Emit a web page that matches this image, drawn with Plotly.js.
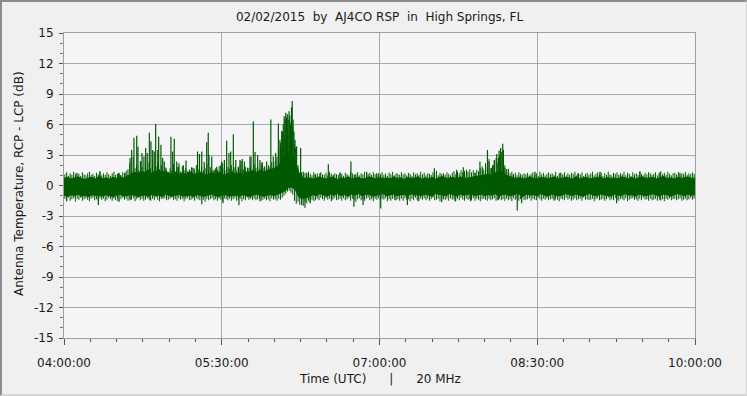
<!DOCTYPE html>
<html>
<head>
<meta charset="utf-8">
<script src="https://cdn.plot.ly/plotly-3.0.1.min.js"></script>
<style>
  html, body { margin:0; padding:0; background:#f0f0f0; }
  #wrap { position:relative; width:747px; height:396px; }
  #chart { position:absolute; left:0; top:0; width:747px; height:396px; }
  #frame { position:absolute; left:0; top:0; width:747px; height:396px; box-sizing:border-box;
           border-top:2px solid #8c8c8c; border-left:2px solid #8c8c8c;
           border-right:1px solid #d4d4d4; border-bottom:2px solid #d4d4d4; pointer-events:none; }
</style>
</head>
<body>
<div id="wrap"><div id="chart"></div><div id="frame"></div></div>
<script>
// ---- data (minutes after 04:00:00 UTC, dB) ----
const titleText = "02/02/2015  by  AJ4CO RSP  in  High Springs, FL";
const xTitleText = "Time (UTC)      |      20 MHz";
const yTitleText = "Antenna Temperature, RCP - LCP (dB)";
const xTickLabels = ["04:00:00","05:30:00","07:00:00","08:30:00","10:00:00"];
const yTickValues = [-15,-12,-9,-6,-3,0,3,6,9,12,15];
const yTickLabels = ["-15","-12","-9","-6","-3","0","3","6","9","12","15"];

// noise band core envelope, sampled every 2 minutes
const bandTime = [0,2,4,6,8,10,12,14,16,18,20,22,24,26,28,30,32,34,36,38,40,42,44,46,48,50,52,54,56,58,60,62,64,66,68,70,72,74,76,78,80,82,84,86,88,90,92,94,96,98,100,102,104,106,108,110,112,114,116,118,120,122,124,126,128,130,132,134,136,138,140,142,144,146,148,150,152,154,156,158,160,162,164,166,168,170,172,174,176,178,180,182,184,186,188,190,192,194,196,198,200,202,204,206,208,210,212,214,216,218,220,222,224,226,228,230,232,234,236,238,240,242,244,246,248,250,252,254,256,258,260,262,264,266,268,270,272,274,276,278,280,282,284,286,288,290,292,294,296,298,300,302,304,306,308,310,312,314,316,318,320,322,324,326,328,330,332,334,336,338,340,342,344,346,348,350,352,354,356,358,360];
const bandHigh = [
  0.7,0.8,0.65,0.75,0.85,0.7,0.6,0.75,0.8,0.65,0.9,0.7,0.75,0.65,0.8,0.7,0.85,0.75,0.9,
  1.1,1.3,1.2,1.4,1.25,1.5,1.2,1.35,1.5,1.25,1.4,
  1.2,1.1,1.3,1.05,1.2,1.1,1.35,1.1,1.2,1.3,1.1,
  1.05,1.25,1.15,1.3,1.1,1.05,1.2,1.35,1.1,1.25,1.05,
  1.3,1.35,1.45,1.3,1.5,1.35,1.45,1.6,1.7,1.9,2.4,
  2.8,3.2,3.0,2.2,1.3,
  0.8,0.7,0.75,0.65,0.75,0.8,0.7,0.65,0.8,0.75,0.6,0.75,
  0.7,0.85,0.65,0.75,0.8,0.65,0.7,0.85,0.75,0.65,0.8,0.7,
  0.75,0.65,0.85,0.7,0.75,0.6,0.8,0.7,0.75,0.85,0.65,0.75,
  0.7,0.8,0.65,0.75,0.9,0.7,0.75,0.8,0.65,0.85,0.75,0.7,
  0.8,0.85,0.9,0.95,
  1.0,1.1,1.0,1.25,1.35,1.4,1.0,
  0.9,0.75,0.7,0.8,0.65,0.75,0.85,0.7,0.65,0.8,0.75,0.7,
  0.75,0.85,0.65,0.7,0.8,0.75,0.65,0.85,0.7,0.75,0.8,0.65,
  0.7,0.75,0.85,0.65,0.8,0.7,0.75,0.65,0.85,0.75,0.7,0.8,
  0.65,0.75,0.85,0.7,0.75,0.8,0.65,0.75,0.9,0.7,0.75,0.65,
  0.8,0.7,0.75,0.85,0.7,0.75
];
const bandLow = [
  -0.95,-1.05,-0.9,-1.0,-0.85,-1.05,-0.95,-1.1,-0.9,-1.0,-0.95,-1.05,
  -0.9,-1.0,-1.1,-0.95,-0.85,-1.05,-1.0,-0.9,-0.95,-1.1,-1.0,-0.95,
  -1.05,-0.9,-1.0,-0.95,-1.1,-0.85,-1.0,-1.05,-0.95,-0.9,-1.05,-1.0,
  -0.95,-1.1,-0.9,-1.0,-1.05,-0.95,-0.85,-1.0,-1.1,-0.95,-0.9,-1.05,
  -1.0,-0.95,-1.05,-0.9,-1.0,-1.1,-0.95,-0.85,-1.0,-1.05,-0.95,-0.9,
  -1.0,-0.85,-0.75,
  -0.55,-0.2,-0.15,-0.4,-1.15,-1.3,-1.2,-1.1,
  -0.9,-1.0,-0.8,-0.95,-1.05,-0.85,-0.95,-0.8,-1.0,-0.9,-1.05,-0.85,
  -0.95,-0.8,-1.0,-0.9,-0.85,-1.05,-0.95,-0.9,-0.8,-1.0,-0.95,-0.85,
  -1.0,-0.9,-0.85,-1.05,-0.8,-0.95,-0.9,-1.0,-0.85,-0.95,-1.05,-0.8,
  -0.9,-0.95,-1.0,-0.8,-0.9,-1.05,-0.85,-0.95,-0.9,-0.8,-1.0,-0.95,
  -0.85,-1.0,-0.9,-0.95,-0.8,-1.05,-0.9,-0.85,-1.0,-0.95,-0.8,-0.9,
  -1.05,-0.85,-0.95,-0.9,-1.0,-0.8,-0.95,-1.05,-0.85,-0.9,-1.0,-0.95,
  -0.8,-0.9,-1.0,-0.85,-0.95,-1.05,-0.9,-0.8,-0.95,-1.0,-0.85,-0.9,
  -0.95,-1.05,-0.85,-0.9,-1.0,-0.8,-0.95,-0.9,-1.05,-0.85,-0.95,-1.0,
  -0.9,-0.8,-0.95,-1.0,-0.85,-0.9,-1.05,-0.95,-0.8,-0.9,-1.0,-0.85,
  -0.95,-0.9
];

// fine noise hairs at the band edges, one per minute (t = 0.5 ... 359.5)
const hairTime = [0.5,1.5,2.5,3.5,4.5,5.5,6.5,7.5,8.5,9.5,10.5,11.5,12.5,13.5,14.5,15.5,16.5,17.5,18.5,19.5,20.5,21.5,22.5,23.5,24.5,25.5,26.5,27.5,28.5,29.5,30.5,31.5,32.5,33.5,34.5,35.5,36.5,37.5,38.5,39.5,40.5,41.5,42.5,43.5,44.5,45.5,46.5,47.5,48.5,49.5,50.5,51.5,52.5,53.5,54.5,55.5,56.5,57.5,58.5,59.5,60.5,61.5,62.5,63.5,64.5,65.5,66.5,67.5,68.5,69.5,70.5,71.5,72.5,73.5,74.5,75.5,76.5,77.5,78.5,79.5,80.5,81.5,82.5,83.5,84.5,85.5,86.5,87.5,88.5,89.5,90.5,91.5,92.5,93.5,94.5,95.5,96.5,97.5,98.5,99.5,100.5,101.5,102.5,103.5,104.5,105.5,106.5,107.5,108.5,109.5,110.5,111.5,112.5,113.5,114.5,115.5,116.5,117.5,118.5,119.5,120.5,121.5,122.5,123.5,124.5,125.5,126.5,127.5,128.5,129.5,130.5,131.5,132.5,133.5,134.5,135.5,136.5,137.5,138.5,139.5,140.5,141.5,142.5,143.5,144.5,145.5,146.5,147.5,148.5,149.5,150.5,151.5,152.5,153.5,154.5,155.5,156.5,157.5,158.5,159.5,160.5,161.5,162.5,163.5,164.5,165.5,166.5,167.5,168.5,169.5,170.5,171.5,172.5,173.5,174.5,175.5,176.5,177.5,178.5,179.5,180.5,181.5,182.5,183.5,184.5,185.5,186.5,187.5,188.5,189.5,190.5,191.5,192.5,193.5,194.5,195.5,196.5,197.5,198.5,199.5,200.5,201.5,202.5,203.5,204.5,205.5,206.5,207.5,208.5,209.5,210.5,211.5,212.5,213.5,214.5,215.5,216.5,217.5,218.5,219.5,220.5,221.5,222.5,223.5,224.5,225.5,226.5,227.5,228.5,229.5,230.5,231.5,232.5,233.5,234.5,235.5,236.5,237.5,238.5,239.5,240.5,241.5,242.5,243.5,244.5,245.5,246.5,247.5,248.5,249.5,250.5,251.5,252.5,253.5,254.5,255.5,256.5,257.5,258.5,259.5,260.5,261.5,262.5,263.5,264.5,265.5,266.5,267.5,268.5,269.5,270.5,271.5,272.5,273.5,274.5,275.5,276.5,277.5,278.5,279.5,280.5,281.5,282.5,283.5,284.5,285.5,286.5,287.5,288.5,289.5,290.5,291.5,292.5,293.5,294.5,295.5,296.5,297.5,298.5,299.5,300.5,301.5,302.5,303.5,304.5,305.5,306.5,307.5,308.5,309.5,310.5,311.5,312.5,313.5,314.5,315.5,316.5,317.5,318.5,319.5,320.5,321.5,322.5,323.5,324.5,325.5,326.5,327.5,328.5,329.5,330.5,331.5,332.5,333.5,334.5,335.5,336.5,337.5,338.5,339.5,340.5,341.5,342.5,343.5,344.5,345.5,346.5,347.5,348.5,349.5,350.5,351.5,352.5,353.5,354.5,355.5,356.5,357.5,358.5,359.5];
const hairTop = [
  1.1,1.3,0.95,1.2,1.05,1.35,1.0,1.25,1.15,0.95,1.3,1.1,
  1.0,1.2,1.35,1.05,1.15,0.95,1.25,1.1,1.4,1.0,1.2,1.05,
  1.3,1.1,0.95,1.2,1.35,1.05,1.15,1.25,1.0,1.3,1.2,1.45,
  1.6,2.2,1.4,2.8,1.7,2.0,1.5,2.4,1.8,1.4,2.1,1.6,
  2.3,1.7,2.6,1.5,1.9,2.2,1.6,2.0,1.45,1.8,1.5,1.35,
  1.7,1.5,2.1,1.4,1.8,1.55,1.35,1.9,1.5,1.7,1.4,1.6,
  1.45,1.75,1.5,2.0,1.6,1.4,1.85,1.5,1.7,2.1,1.55,1.8,
  1.5,1.4,1.7,1.55,1.9,1.45,2.2,1.6,1.5,1.8,1.65,2.0,
  1.55,1.8,1.45,1.7,2.0,1.5,1.6,1.85,1.4,1.7,1.9,1.55,
  2.1,1.75,1.9,1.6,2.2,1.7,1.85,2.0,1.65,1.8,2.3,1.9,
  2.4,2.8,3.5,4.2,3.8,5.0,4.6,5.5,4.9,6.2,5.8,4.0,
  2.6,1.5,1.2,1.3,1.1,1.25,1.05,1.35,1.15,1.0,1.3,1.1,
  1.2,0.95,1.3,1.1,1.05,1.25,1.0,1.35,1.15,0.95,1.2,1.1,
  1.05,1.3,1.15,0.95,1.25,1.1,1.0,1.35,1.2,1.05,1.15,1.3,
  1.0,1.2,1.1,1.35,0.95,1.15,1.25,1.05,1.3,1.1,1.0,1.2,
  1.15,1.3,1.05,1.2,0.95,1.25,1.1,1.35,1.0,1.2,1.15,1.05,
  1.3,1.1,1.2,1.0,1.25,1.15,0.95,1.3,1.1,1.2,1.05,1.35,
  1.1,1.25,1.0,1.2,1.15,1.05,1.3,1.1,1.45,1.0,1.25,1.15,
  1.2,1.05,1.3,1.15,1.0,1.25,1.4,1.1,1.35,1.2,1.5,1.3,
  1.45,1.2,1.35,1.6,1.3,1.5,1.25,1.55,1.4,1.7,1.9,1.5,
  2.2,1.8,2.6,1.7,2.0,2.4,2.7,2.2,3.0,3.3,2.8,2.0,
  1.6,1.3,1.2,1.35,1.1,1.25,1.0,1.3,1.15,1.05,1.2,1.1,
  1.25,1.0,1.15,1.3,1.05,1.2,0.95,1.35,1.1,1.25,1.0,1.15,
  1.3,1.1,1.2,1.05,1.35,0.95,1.15,1.25,1.1,1.3,1.0,1.2,
  1.05,1.25,1.15,1.35,1.0,1.2,1.1,1.3,0.95,1.15,1.25,1.05,
  1.2,1.35,1.0,1.15,1.3,1.1,1.25,0.95,1.2,1.05,1.35,1.1,
  1.0,1.25,1.15,1.3,1.05,1.2,1.1,1.35,1.0,1.25,1.15,0.95,
  1.3,1.1,1.2,1.05,1.35,1.15,1.0,1.25,1.1,1.3,1.2,1.05,
  1.15,1.3,1.0,1.2,1.4,1.1,1.25,1.05,1.35,1.15,1.0,1.2,
  1.25,1.1,1.3,1.0,1.2,1.15,1.35,1.05,1.2,1.1,1.3,1.15
];
const hairBottom = [
  -1.3,-1.45,-1.2,-1.5,-1.35,-1.25,-1.6,-1.3,-1.4,-1.2,-1.5,-1.35,
  -1.25,-1.4,-1.55,-1.3,-1.2,-1.45,-1.35,-1.5,-1.25,-1.4,-1.3,-1.55,
  -1.4,-1.2,-1.35,-1.5,-1.3,-1.45,-1.25,-1.6,-1.35,-1.2,-1.4,-1.3,
  -1.5,-1.3,-1.4,-1.25,-1.55,-1.35,-1.2,-1.45,-1.3,-1.5,-1.4,-1.25,
  -1.35,-1.5,-1.3,-1.45,-1.2,-1.4,-1.55,-1.3,-1.35,-1.25,-1.45,-1.4,
  -1.3,-1.2,-1.45,-1.35,-1.5,-1.25,-1.4,-1.3,-1.55,-1.35,-1.2,-1.45,
  -1.4,-1.3,-1.5,-1.25,-1.35,-1.45,-1.2,-1.4,-1.6,-1.3,-1.45,-1.35,
  -1.25,-1.45,-1.35,-1.5,-1.3,-1.4,-1.55,-1.25,-1.35,-1.45,-1.3,-1.5,
  -1.35,-1.25,-1.5,-1.4,-1.3,-1.55,-1.35,-1.45,-1.2,-1.4,-1.3,-1.45,
  -1.3,-1.45,-1.35,-1.25,-1.5,-1.4,-1.3,-1.45,-1.35,-1.55,-1.25,-1.4,
  -1.35,-1.5,-1.3,-1.4,-1.2,-1.0,-0.8,-0.6,-0.5,-0.7,-0.9,-1.5,
  -1.8,-1.6,-1.9,-1.7,-2.0,-1.6,-1.75,-1.5,-1.65,-1.4,-1.55,-1.45,
  -1.3,-1.45,-1.2,-1.35,-1.5,-1.25,-1.4,-1.3,-1.55,-1.35,-1.2,-1.45,
  -1.4,-1.3,-1.5,-1.25,-1.45,-1.35,-1.2,-1.5,-1.3,-1.4,-1.6,-1.35,
  -1.25,-1.45,-1.35,-1.5,-1.3,-1.2,-1.45,-1.35,-1.55,-1.3,-1.4,-1.25,
  -1.45,-1.3,-1.4,-1.25,-1.55,-1.35,-1.5,-1.3,-1.2,-1.45,-1.35,-1.5,
  -1.3,-1.5,-1.25,-1.4,-1.35,-1.55,-1.3,-1.45,-1.2,-1.4,-1.5,-1.3,
  -1.4,-1.25,-1.45,-1.3,-1.5,-1.35,-1.2,-1.45,-1.4,-1.3,-1.55,-1.35,
  -1.35,-1.45,-1.3,-1.5,-1.25,-1.4,-1.35,-1.55,-1.3,-1.45,-1.2,-1.4,
  -1.5,-1.3,-1.4,-1.35,-1.45,-1.25,-1.5,-1.3,-1.4,-1.55,-1.35,-1.3,
  -1.4,-1.5,-1.3,-1.45,-1.35,-1.25,-1.5,-1.4,-1.3,-1.45,-1.35,-1.5,
  -1.3,-1.45,-1.35,-1.55,-1.25,-1.4,-1.3,-1.5,-1.35,-1.2,-1.45,-1.4,
  -1.35,-1.25,-1.5,-1.3,-1.4,-1.45,-1.2,-1.35,-1.5,-1.3,-1.4,-1.25,
  -1.45,-1.35,-1.3,-1.5,-1.25,-1.4,-1.55,-1.3,-1.35,-1.45,-1.2,-1.4,
  -1.3,-1.5,-1.4,-1.25,-1.45,-1.35,-1.3,-1.5,-1.2,-1.4,-1.35,-1.45,
  -1.4,-1.3,-1.55,-1.35,-1.25,-1.45,-1.4,-1.3,-1.5,-1.35,-1.2,-1.45,
  -1.35,-1.45,-1.25,-1.4,-1.5,-1.3,-1.35,-1.45,-1.25,-1.55,-1.4,-1.3,
  -1.25,-1.4,-1.35,-1.5,-1.3,-1.45,-1.2,-1.4,-1.35,-1.5,-1.3,-1.45,
  -1.4,-1.3,-1.5,-1.25,-1.45,-1.35,-1.55,-1.3,-1.4,-1.25,-1.45,-1.35,
  -1.3,-1.45,-1.35,-1.25,-1.5,-1.4,-1.3,-1.45,-1.35,-1.2,-1.4,-1.3
];

// upward bursts (time in minutes, peak in dB)
const spikeTime = [6.8,20.5,31.0,32.0,34.8,36.3,37.7,38.6,39.9,41.5,42.2,43.8,44.5,45.6,46.6,47.5,48.7,49.6,50.6,51.5,52.3,53.5,54.0,55.3,56.3,57.2,58.2,59.5,61.0,62.0,62.9,64.3,65.2,65.6,66.7,68.1,69.6,70.9,72.8,74.2,76.2,77.3,78.6,80.0,81.4,82.3,82.7,84.3,85.7,87.1,88.6,89.4,90.0,90.5,91.5,92.8,94.1,95.1,96.6,98.0,99.4,100.4,101.0,101.7,102.9,103.3,104.7,106.1,106.7,108.0,109.0,110.5,111.8,112.8,113.1,114.3,115.6,116.7,118.0,119.4,120.8,122.3,123.2,123.8,124.2,124.7,125.1,125.6,126.1,126.5,127.0,127.4,127.9,128.4,128.8,129.3,129.8,130.2,130.7,131.2,131.8,132.2,132.7,133.5,135.0,136.5,138.5,143.2,146.0,150.8,153.6,157.5,163.7,166.0,172.7,178.4,211.3,224.0,227.8,229.7,234.5,237.3,238.9,241.6,242.5,244.0,244.9,245.5,246.9,247.8,248.2,249.1,250.3,250.7,251.6,253.5,256.3,268.7,283.0,293.2,305.8,328.6,340.0,351.4];
const spikePeak = [1.2,1.35,1.2,1.05,1.25,1.04,2.7,3.5,4.7,4.9,3.8,2.35,3.2,2.85,3.7,3.2,5.2,4.35,3.5,3.35,6.05,3.5,4.8,4.0,2.7,2.35,1.75,1.05,4.8,3.35,4.6,2.35,1.85,2.2,1.35,2.0,2.45,1.35,1.8,1.7,3.35,3.1,3.35,2.3,4.25,5.2,3.0,2.85,1.55,1.85,1.35,2.0,2.35,1.75,2.5,4.4,3.2,3.35,5.05,2.5,1.85,2.5,2.4,2.6,2.35,1.35,1.75,2.85,2.85,6.3,3.3,3.0,2.5,2.0,2.3,1.85,2.35,2.0,6.5,2.85,3.2,6.1,4.5,3.7,5.35,5.3,6.0,6.8,6.5,7.15,6.7,7.0,6.5,7.3,6.9,6.0,7.7,8.3,6.5,5.3,4.5,3.7,3.85,2.0,3.7,1.35,1.25,1.05,1.2,2.1,1.05,1.2,2.35,1.05,1.35,1.2,1.7,1.55,1.8,1.55,1.25,2.35,1.7,3.5,2.35,1.75,2.0,2.5,3.1,2.7,3.45,3.7,4.1,3.5,1.75,1.65,1.05,1.35,1.25,1.2,1.35,1.4,1.3,1.25];

// downward excursions (time in minutes, minimum in dB)
const dipTime = [1.5,19.6,30.8,37.7,49.1,78.6,90.7,99.8,111.8,135.6,137.5,140.4,152.7,165.4,170.6,180.7,188.8,195.9,202.0,215.5,223.1,232.0,247.8,258.6,261.1,280.1,315.3,340.0];
const dipLow = [-1.55,-1.93,-1.55,-1.45,-1.45,-1.85,-1.75,-1.95,-1.55,-1.93,-2.2,-1.75,-1.45,-2.1,-1.93,-2.25,-1.45,-1.93,-1.55,-1.65,-1.55,-1.55,-1.45,-2.45,-1.75,-1.45,-1.75,-1.45];

// ---- drawing ----
const T0 = Date.UTC(2015, 1, 2, 4, 0, 0);
const toMs = m => T0 + m * 60000;
const green = "#005a00";

function segments(times, tips) {
  const x = [], y = [];
  times.forEach((t, i) => { x.push(toMs(t), toMs(t), null); y.push(0, tips[i], null); });
  return { x, y };
}
const bx = bandTime.map(toMs);
const hUp = segments(hairTime, hairTop);
const hDn = segments(hairTime, hairBottom);
const sUp = segments(spikeTime, spikePeak);
const sDn = segments(dipTime, dipLow);

const lineTrace = (d, w) => ({ x: d.x, y: d.y, type: "scatter", mode: "lines", line: { color: green, width: w }, connectgaps: false, hoverinfo: "skip", showlegend: false });

const traces = [
  { x: bx, y: bandLow, type: "scatter", mode: "lines", line: { color: green, width: 1 }, hoverinfo: "skip", showlegend: false },
  { x: bx, y: bandHigh, type: "scatter", mode: "lines", fill: "tonexty", fillcolor: green, line: { color: green, width: 1 }, hoverinfo: "skip", showlegend: false },
  lineTrace(hUp, 1),
  lineTrace(hDn, 1),
  lineTrace(sUp, 1.2),
  lineTrace(sDn, 1.2)
];

const fontFamily = "DejaVu Sans, sans-serif";
const txt = { family: fontFamily, size: 12, color: "#1a1a1a" };
const layout = {
  width: 747, height: 396,
  margin: { l: 64, r: 52, t: 33, b: 58 },
  paper_bgcolor: "#f0f0f0",
  plot_bgcolor: "#f5f5f7",
  font: txt,
  showlegend: false,
  title: { text: titleText.replace(/ /g, "\u00a0"), x: 0.5, xref: "paper", y: 1 - 17/396, yref: "container", yanchor: "middle", font: txt },
  xaxis: {
    type: "date",
    range: [toMs(0), toMs(360)],
    tickmode: "array",
    tickvals: [0, 90, 180, 270, 360].map(toMs),
    ticktext: xTickLabels,
    ticks: "outside", ticklen: 6, tickcolor: "#555", tickwidth: 1,
    ticklabelstandoff: 8,
    minor: { tickmode: "linear", tick0: toMs(0), dtick: 15 * 60000, ticks: "outside", ticklen: 3, tickcolor: "#555", showgrid: false },
    showgrid: true, gridcolor: "#a9a9a9", gridwidth: 1,
    showline: true, linecolor: "#a0a0a0", linewidth: 1, mirror: true,
    zeroline: false, fixedrange: true,
    tickfont: txt
  },
  yaxis: {
    range: [-15, 15],
    tickmode: "array", tickvals: yTickValues, ticktext: yTickLabels,
    ticks: "outside", ticklen: 4, tickcolor: "#555",
    ticklabelstandoff: 3,
    minor: { tickmode: "linear", tick0: 0, dtick: 1, ticks: "outside", ticklen: 3, tickcolor: "#777", showgrid: false },
    showgrid: true, gridcolor: "#a9a9a9", gridwidth: 1,
    showline: true, linecolor: "#a0a0a0", linewidth: 1, mirror: true,
    zeroline: false, fixedrange: true,
    tickfont: txt
  },
  annotations: [
    { text: xTitleText.replace(/ /g, "\u00a0"), xref: "paper", yref: "paper", x: 0.5, y: -(379 - 338) / 305, xanchor: "center", yanchor: "middle", showarrow: false, font: txt },
    { text: yTitleText, xref: "paper", yref: "paper", x: (19 - 64) / 631, y: (338 - 184) / 305, xanchor: "center", yanchor: "middle", textangle: -90, showarrow: false, font: txt }
  ]
};

Plotly.newPlot("chart", traces, layout, { staticPlot: true, displayModeBar: false });
</script>
</body>
</html>
